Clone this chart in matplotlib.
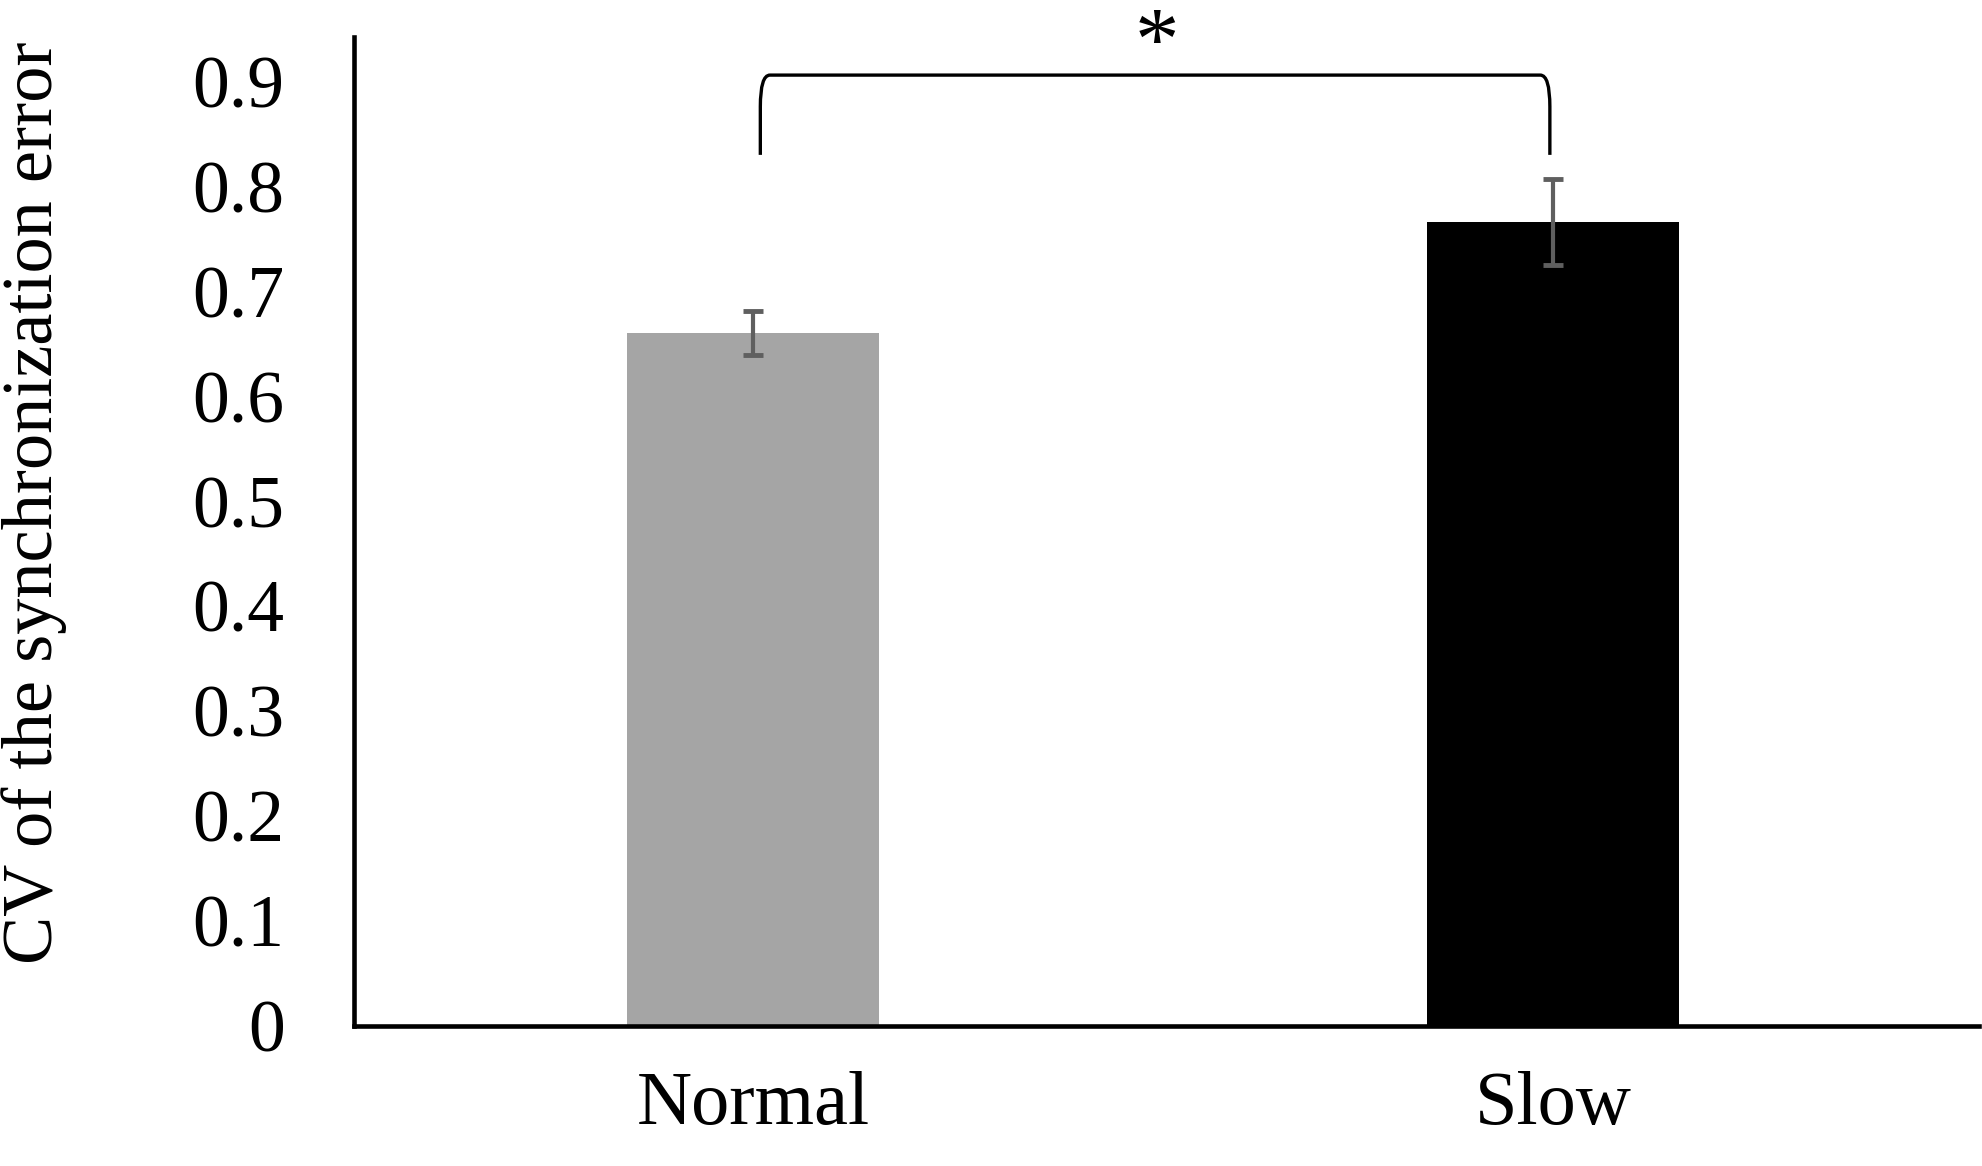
import matplotlib
matplotlib.use("Agg")
import matplotlib.pyplot as plt
from matplotlib.path import Path
from matplotlib.patches import PathPatch

# data
conditions = ["Normal", "Slow"]
cv_means = [0.660, 0.766]
cv_errors = [0.021, 0.041]
bar_colors = ["#A5A5A5", "#000000"]
y_ticks = [0, 0.1, 0.2, 0.3, 0.4, 0.5, 0.6, 0.7, 0.8, 0.9]
tick_labels = ["0", "0.1", "0.2", "0.3", "0.4", "0.5", "0.6", "0.7", "0.8", "0.9"]

plt.rcParams["font.family"] = ["Liberation Serif", "DejaVu Serif"]

fig = plt.figure(figsize=(19.83, 11.66), dpi=100)
ax = fig.add_axes([0.1785, 0.12, 0.8195, 0.848])

x = list(range(len(conditions)))
ax.bar(x, cv_means, width=0.315, color=bar_colors, zorder=2)
ax.errorbar(x, cv_means, yerr=cv_errors, fmt="none", ecolor="#5f5f5f",
            elinewidth=3, capsize=7.5, capthick=3.5, zorder=3)

ax.set_xlim(-0.499, 1.5325)
ax.set_ylim(0, 0.942)
ax.set_yticks(y_ticks)
ax.set_yticklabels(tick_labels)
ax.set_xticks(x)
ax.set_xticklabels(conditions)
ax.tick_params(axis="y", length=0, pad=50, labelsize=53)
ax.tick_params(axis="x", length=0, pad=32, labelsize=55)

for side in ["top", "right"]:
    ax.spines[side].set_visible(False)
for side in ["left", "bottom"]:
    ax.spines[side].set_linewidth(3.3)
    ax.spines[side].set_color("black")

# significance bracket with rounded corners
y_bot, y_top = 0.830, 0.906
x0, x1 = x[0] + 0.009, x[1] - 0.004
rx, ry = 0.012, 0.03
verts = [(x0, y_bot), (x0, y_top - ry), (x0, y_top), (x0 + rx, y_top),
         (x1 - rx, y_top), (x1, y_top), (x1, y_top - ry), (x1, y_bot)]
codes = [Path.MOVETO, Path.LINETO, Path.CURVE3, Path.CURVE3,
         Path.LINETO, Path.CURVE3, Path.CURVE3, Path.LINETO]
ax.add_patch(PathPatch(Path(verts, codes), fill=False, lw=2.4,
                       edgecolor="black", capstyle="butt", clip_on=False))
ax.text(0.505, 0.933, "*", ha="center", va="center", fontsize=64,
        clip_on=False)

fig.text(0.017, 0.569, "CV of the synchronization error", rotation=90,
         ha="center", va="center", fontsize=52)

fig.savefig("out.png", dpi=100)
